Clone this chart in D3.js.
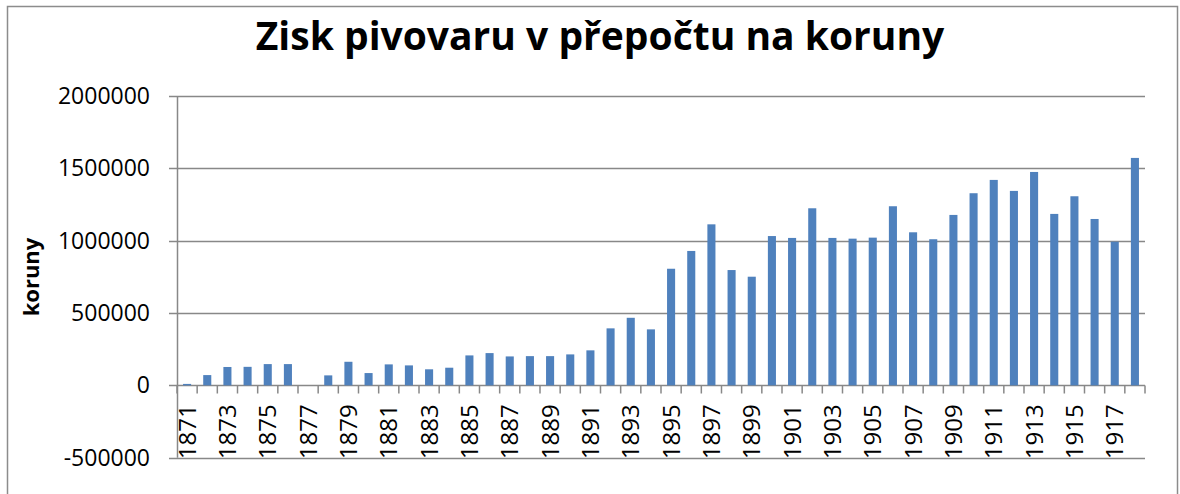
<!DOCTYPE html>
<html>
<head>
<meta charset="utf-8">
<script src="https://cdn.jsdelivr.net/npm/d3@7"></script>
<style>
  body { margin: 0; background: #fff; }
  svg { font-family: "Open Sans", sans-serif; }
</style>
</head>
<body>
<div id="chart"></div>
<script>
var years = d3.range(1871, 1919);
var profit = [
  10000, 71000, 127000, 128000, 147000, 147000, 0, 69000, 163000, 85000,
  145000, 138000, 111000, 122000, 207000, 223000, 200000, 202000, 202000, 214000,
  242000, 394000, 467000, 387000, 806000, 929000, 1113000, 797000, 751000, 1032000,
  1019000, 1224000, 1019000, 1014000, 1021000, 1238000, 1058000, 1010000, 1178000, 1328000,
  1420000, 1344000, 1475000, 1185000, 1307000, 1150000, 993000, 1572000
];
var yTicks = [-500000, 0, 500000, 1000000, 1500000, 2000000];

var W = 1180, H = 494;
var m = {t: 96, r: 35, b: 36, l: 177};
var w = W - m.l - m.r, h = H - m.t - m.b - 0.3;

var svg = d3.select("#chart").append("svg")
    .attr("width", W).attr("height", H);

// outer chart border
svg.append("rect")
    .attr("x", 7.5).attr("y", 6.5)
    .attr("width", 1170).attr("height", 500)
    .attr("fill", "none").attr("stroke", "#8c8c8c").attr("stroke-width", 1.5);

svg.append("text")
    .attr("x", 600).attr("y", 50)
    .attr("text-anchor", "middle")
    .attr("font-size", 39).attr("font-weight", "bold")
    .text("Zisk pivovaru v přepočtu na koruny");

var g = svg.append("g").attr("transform", "translate(" + m.l + "," + m.t + ")");

var x = d3.scaleBand().domain(years).range([0, w]).paddingInner(0.6).paddingOuter(0.3);
var y = d3.scaleLinear().domain([-500000, 2000000]).range([h, 0]);

// gridlines
g.selectAll(".grid").data(yTicks).enter().append("line")
    .attr("x1", -8).attr("x2", w)
    .attr("y1", function(d){ return Math.round(y(d)) + 0.5; })
    .attr("y2", function(d){ return Math.round(y(d)) + 0.5; })
    .attr("stroke", "#888").attr("stroke-width", 1.5);

// y axis line
g.append("line")
    .attr("x1", 0.5).attr("x2", 0.5).attr("y1", 0).attr("y2", h)
    .attr("stroke", "#888").attr("stroke-width", 1.5);

g.selectAll(".ylab").data(yTicks).enter().append("text")
    .attr("x", -27).attr("y", function(d){ return y(d); })
    .attr("dy", "0.35em")
    .attr("text-anchor", "end").attr("font-size", 23)
    .text(function(d){ return d; });

// bars
g.selectAll(".bar").data(profit).enter().append("rect")
    .attr("x", function(d, i){ return x(years[i]); })
    .attr("width", x.bandwidth())
    .attr("y", function(d){ return y(Math.max(0, d)); })
    .attr("height", function(d){ return Math.abs(y(d) - y(0)); })
    .attr("fill", "#4f81bd");

// x axis at zero
var step = x.step();
var zy = Math.round(y(0)) + 0.5;
g.selectAll(".xtick").data(d3.range(years.length + 1)).enter().append("line")
    .attr("x1", function(i){ return i * step; })
    .attr("x2", function(i){ return i * step; })
    .attr("y1", zy).attr("y2", zy + 8)
    .attr("stroke", "#888").attr("stroke-width", 1.5);

g.selectAll(".xlab").data(years.filter(function(d, i){ return i % 2 === 0; })).enter().append("text")
    .attr("transform", function(d){
        return "translate(" + (x(d) + x.bandwidth() / 2) + "," + (y(0) + 19) + ") rotate(-90)";
    })
    .attr("dy", "0.36em")
    .attr("text-anchor", "end").attr("font-size", 24)
    .text(function(d){ return d; });

svg.append("text")
    .attr("transform", "translate(31,277) rotate(-90)")
    .attr("dy", "0.35em")
    .attr("text-anchor", "middle")
    .attr("font-size", 22).attr("font-weight", "bold")
    .text("koruny");
</script>
</body>
</html>
